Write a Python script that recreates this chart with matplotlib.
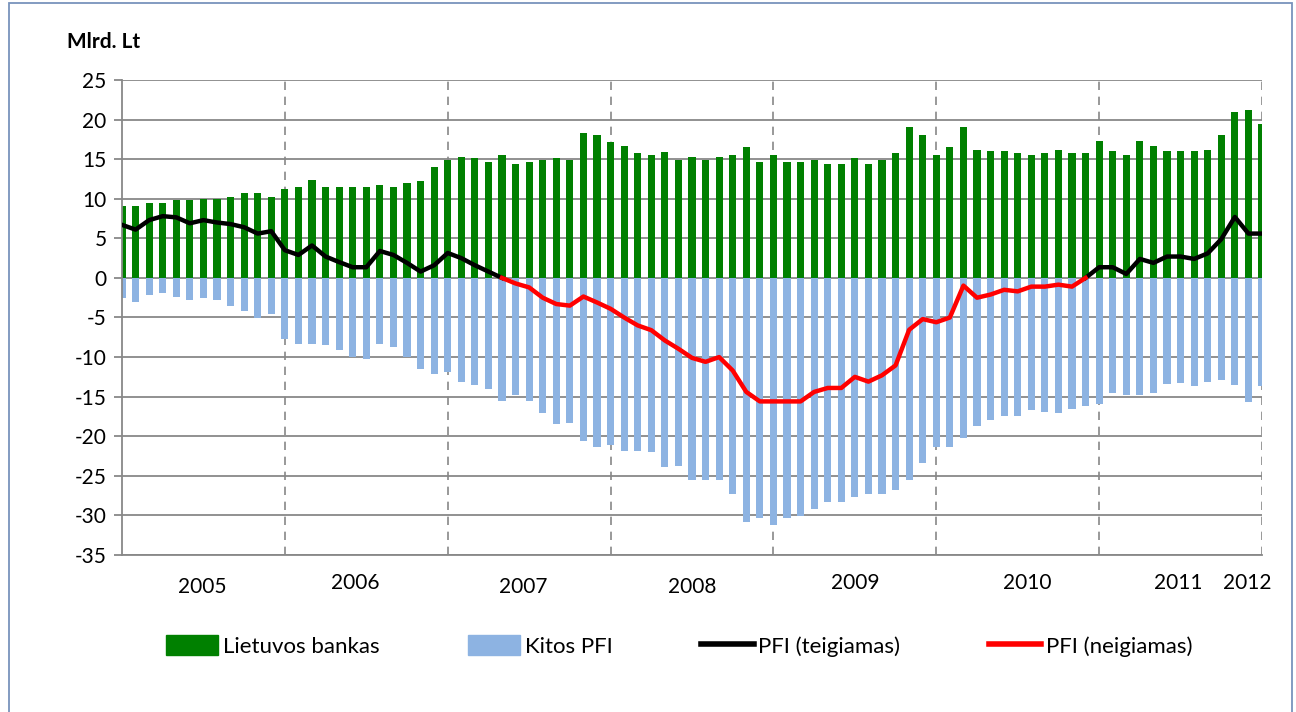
import matplotlib
matplotlib.use('Agg')
import matplotlib.pyplot as plt
from matplotlib.patches import Patch, Rectangle
from matplotlib.lines import Line2D
import numpy as np

plt.rcParams['font.family'] = ['Lato', 'DejaVu Sans']
plt.rcParams['axes.unicode_minus'] = False

# monthly data, Jan 2005 .. Jan 2012 (mlrd. Lt)
lietuvos_bankas = [9.1, 9.1, 9.5, 9.5, 9.8, 9.8, 10.0, 10.0, 10.25, 10.7, 10.7, 10.25,
                   11.2, 11.5, 12.4, 11.5, 11.5, 11.5, 11.5, 11.7, 11.5, 12.0, 12.2, 14.05,
                   14.95, 15.3, 15.1, 14.7, 15.55, 14.4, 14.6, 14.9, 15.1, 14.9, 18.3, 18.1,
                   17.2, 16.7, 15.75, 15.5, 15.95, 14.9, 15.3, 14.9, 15.3, 15.55, 16.5, 14.65,
                   15.55, 14.65, 14.65, 14.9, 14.4, 14.4, 15.1, 14.4, 14.9, 15.75, 19.0, 18.1,
                   15.55, 16.5, 19.0, 16.2, 16.0, 16.0, 15.75, 15.55, 15.75, 16.2, 15.75, 15.75,
                   17.3, 16.0, 15.55, 17.3, 16.7, 16.0, 16.0, 16.0, 16.2, 18.1, 21.0, 21.2,
                   19.5]
kitos_pfi = [-2.5, -3.0, -2.15, -1.9, -2.4, -2.8, -2.6, -2.8, -3.5, -4.2, -5.1, -4.5,
             -7.7, -8.4, -8.4, -8.5, -9.1, -10.0, -10.2, -8.4, -8.7, -10.0, -11.5, -12.2,
             -11.9, -13.1, -13.5, -14.0, -15.5, -14.8, -15.6, -17.1, -18.5, -18.3, -20.6, -21.3,
             -21.1, -21.8, -21.8, -22.0, -23.9, -23.7, -25.5, -25.5, -25.5, -27.3, -30.8, -30.3,
             -31.2, -30.3, -30.1, -29.2, -28.3, -28.3, -27.7, -27.3, -27.3, -26.8, -25.5, -23.4,
             -21.3, -21.3, -20.2, -18.7, -18.0, -17.4, -17.4, -16.7, -16.9, -17.1, -16.5, -16.2,
             -15.9, -14.6, -14.8, -14.8, -14.6, -13.4, -13.3, -13.6, -13.2, -12.9, -13.5, -15.7,
             -13.6]
pfi = [6.7, 6.1, 7.3, 7.8, 7.65, 6.9, 7.3, 7.0, 6.8, 6.4, 5.6, 5.9,
       3.5, 2.9, 4.1, 2.7, 2.0, 1.35, 1.35, 3.4, 2.9, 1.9, 0.8, 1.6,
       3.15, 2.5, 1.6, 0.8, 0.0, -0.7, -1.2, -2.5, -3.3, -3.5, -2.35, -3.1,
       -3.9, -5.0, -6.0, -6.6, -7.9, -8.95, -10.1, -10.6, -10.0, -11.7, -14.4, -15.6,
       -15.6, -15.6, -15.6, -14.4, -13.9, -13.9, -12.5, -13.1, -12.3, -11.05, -6.55, -5.2,
       -5.6, -5.0, -0.97, -2.5, -2.1, -1.5, -1.7, -1.1, -1.1, -0.85, -1.1, 0.0,
       1.35, 1.35, 0.5, 2.4, 1.9, 2.7, 2.7, 2.4, 3.1, 4.9, 7.7, 5.6,
       5.6]
years = ['2005', '2006', '2007', '2008', '2009', '2010', '2011', '2012']
year_x = [5.9, 17.2, 29.6, 42.0, 54.0, 66.7, 77.8, 82.9]
year_y = [-0.068, -0.058, -0.068, -0.068, -0.058, -0.058, -0.058, -0.058]

x = np.arange(len(pfi))
pfi = np.array(pfi)
pfi_teig = np.where(pfi >= 0, pfi, np.nan)
pfi_neig = np.where(pfi <= 0, pfi, np.nan)

fig = plt.figure(figsize=(12.96, 7.12), dpi=100)
ax = fig.add_axes([122/1296, 1-555/712, 1140/1296, 475/712])

grid_c = '#888888'
ax.set_ylim(-35, 25)
ax.set_xlim(0, 84)
ax.set_yticks(np.arange(-35, 26, 5))
ax.yaxis.grid(True, color=grid_c, lw=1.3, zorder=0)
ax.set_axisbelow(True)
for xv in range(12, 85, 12):
    ax.axvline(xv, color=grid_c, lw=1.2, ls=(0, (5, 4)), zorder=0.5)

ax.bar(x, lietuvos_bankas, width=0.52, color='#008000', zorder=2)
ax.bar(x, kitos_pfi, width=0.52, color='#8DB3E2', zorder=2)
ax.plot(x, pfi_teig, color='black', lw=3.2, zorder=3, solid_joinstyle='round')
ax.plot(x, pfi_neig, color='#FF0000', lw=3.2, zorder=3, solid_joinstyle='round')

for s in ['top', 'right']:
    ax.spines[s].set_visible(False)
for s in ['left', 'bottom']:
    ax.spines[s].set_color(grid_c)
    ax.spines[s].set_linewidth(1.3)
ax.tick_params(axis='y', length=6, color=grid_c, width=1.3, labelsize=15, pad=5)
ax.set_xticks([])

for lab, xp, yp in zip(years, year_x, year_y):
    ax.text(xp, yp, lab, transform=ax.get_xaxis_transform(), ha='center', va='center', fontsize=15)

fig.text(67/1296, 1-42/712, 'Mlrd. Lt', fontsize=15, fontweight='bold', va='center', ha='left')

handles = [Patch(color='#008000'), Patch(color='#8DB3E2'),
           Line2D([], [], color='black', lw=4), Line2D([], [], color='#FF0000', lw=4)]
labels = ['Lietuvos bankas', 'Kitos PFI', 'PFI (teigiamas)', 'PFI (neigiamas)']
fig.legend(handles, labels, loc='center', bbox_to_anchor=(679/1296, 1-646/712), ncol=4,
           frameon=False, fontsize=16, handlelength=2.35, handleheight=0.95,
           handletextpad=0.2, columnspacing=4.0)

fig.patches.append(Rectangle((9/1296, -0.01), 1283/1296, 1.0058, transform=fig.transFigure,
                             fill=False, edgecolor='#7893BC', lw=1.3))

plt.savefig('out.png', dpi=100)
